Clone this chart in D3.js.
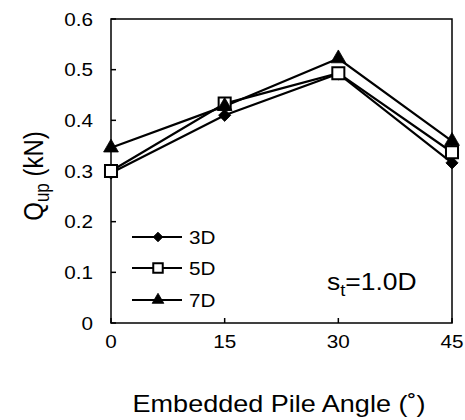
<!DOCTYPE html>
<html>
<head>
<meta charset="utf-8">
<script src="https://cdn.jsdelivr.net/npm/d3@7"></script>
<style>
  html, body { margin: 0; padding: 0; background: #fff; }
  text { font-family: "Liberation Sans", Arial, sans-serif; fill: #000; }
</style>
</head>
<body>
<svg id="chart" width="465" height="420"></svg>
<script>
const angles = [0, 15, 30, 45];
const seriesNames = ["3D", "5D", "7D"];
const values3D = [0.296, 0.410, 0.492, 0.316];
const values5D = [0.300, 0.433, 0.493, 0.337];
const values7D = [0.346, 0.428, 0.522, 0.359];
const yTicks = [0, 0.1, 0.2, 0.3, 0.4, 0.5, 0.6];
const xTicks = [0, 15, 30, 45];

const series = [
  { name: seriesNames[0], values: values3D, marker: "diamond" },
  { name: seriesNames[1], values: values5D, marker: "square" },
  { name: seriesNames[2], values: values7D, marker: "triangle" }
];

const SX = 1.15; // horizontal text stretch of the reference
const svg = d3.select("#chart");
const m = { left: 111, right: 452, top: 19, bottom: 323 };
const x = d3.scaleLinear().domain([0, 45]).range([m.left, m.right]);
const y = d3.scaleLinear().domain([0, 0.6]).range([m.bottom, m.top]);

function stretchedText(g, tx, ty, anchor, size, str) {
  const t = g.append("g").attr("transform", `translate(${tx},${ty}) scale(${SX},1)`)
    .append("text").attr("text-anchor", anchor).attr("font-size", size);
  if (str !== undefined) t.text(str);
  return t;
}

// frame
svg.append("rect").attr("x", m.left).attr("y", m.top)
  .attr("width", m.right - m.left).attr("height", m.bottom - m.top)
  .attr("fill", "none").attr("stroke", "#000").attr("stroke-width", 1.5);

// y ticks (inward)
const yAxis = svg.append("g");
yTicks.forEach(v => {
  yAxis.append("line").attr("x1", m.left).attr("x2", m.left + 5)
    .attr("y1", y(v)).attr("y2", y(v)).attr("stroke", "#000").attr("stroke-width", 1.5);
  stretchedText(yAxis, m.left - 18, y(v) + 6.5, "end", 18, String(+v.toFixed(1)));
});
// x ticks (inward)
const xAxis = svg.append("g");
xTicks.forEach(v => {
  xAxis.append("line").attr("x1", x(v)).attr("x2", x(v))
    .attr("y1", m.bottom).attr("y2", m.bottom - 5).attr("stroke", "#000").attr("stroke-width", 1.5);
  stretchedText(xAxis, x(v), 348, "middle", 18, String(v));
});

// titles
stretchedText(svg, 279, 412, "middle", 23.5, "Embedded Pile Angle (˚)");
const yt = svg.append("g").attr("transform", `translate(43,176) scale(${SX},1) rotate(-90)`)
  .append("text").attr("text-anchor", "middle").attr("font-size", 24);
yt.append("tspan").text("Q");
yt.append("tspan").attr("font-size", 17).attr("dy", 5).text("up");
yt.append("tspan").attr("dy", -5).text(" (kN)");

// markers
function drawMarker(g, type, cx, cy, scale) {
  let path, rot = 0;
  if (type === "diamond") { path = d3.symbol().type(d3.symbolSquare).size(75 * scale)(); rot = 45; }
  else if (type === "square") path = d3.symbol().type(d3.symbolSquare).size(145 * scale)();
  else path = d3.symbol().type(d3.symbolTriangle).size(95 * scale)();
  g.append("path").attr("d", path)
    .attr("transform", `translate(${cx},${cy}) rotate(${rot})`)
    .attr("fill", type === "square" ? "#fff" : "#000")
    .attr("stroke", "#000").attr("stroke-width", type === "square" ? 2 : 0.8);
}

const line = d3.line().x((d, i) => x(angles[i])).y(d => y(d));
series.forEach(s => {
  svg.append("path").attr("d", line(s.values)).attr("fill", "none")
    .attr("stroke", "#000").attr("stroke-width", 2.2);
});
series.forEach(s => {
  const g = svg.append("g");
  s.values.forEach((v, i) => drawMarker(g, s.marker, x(angles[i]), y(v), 1));
});

// legend
const legRows = [237, 268, 300];
series.forEach((s, i) => {
  const g = svg.append("g");
  g.append("line").attr("x1", 132).attr("x2", 182).attr("y1", legRows[i]).attr("y2", legRows[i])
    .attr("stroke", "#000").attr("stroke-width", 2.2);
  drawMarker(g, s.marker, 158, legRows[i], 0.62);
  stretchedText(g, 189, legRows[i] + 6.5, "start", 18, s.name);
});

// annotation
const ann = stretchedText(svg, 327, 290, "start", 23);
ann.append("tspan").text("s");
ann.append("tspan").attr("font-size", 16).attr("dy", 6).text("t");
ann.append("tspan").attr("dy", -6).text("=1.0D");
</script>
</body>
</html>
